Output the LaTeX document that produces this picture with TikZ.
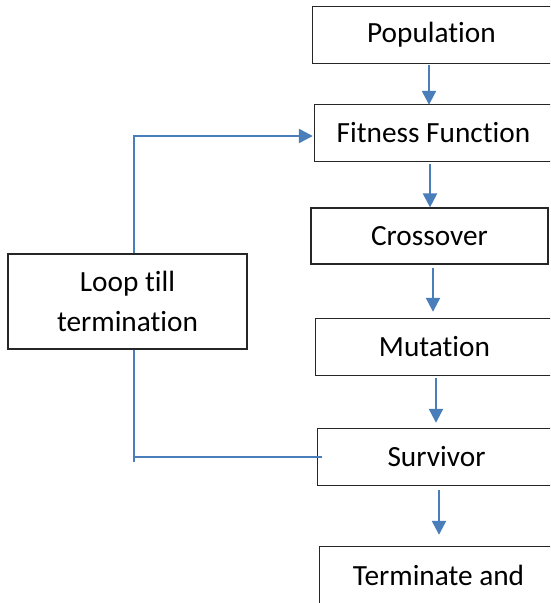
\documentclass[tikz,border=0pt]{standalone}
\usepackage{fontspec}
\setmainfont{Carlito}[Ligatures={NoCommon,NoRare,NoContextual}]
\usetikzlibrary{arrows.meta}
\definecolor{flowblue}{HTML}{4A7EBB}
\begin{document}
\begin{tikzpicture}[x=1pt,y=-1pt,
  box/.style={minimum width=237pt,minimum height=56pt,inner sep=0pt,
    font=\fontsize{29.3}{40}\selectfont},
  frame/.style={draw=black!85,line width=1.2pt},
  link/.style={draw=flowblue,line width=2.3pt},
  arr/.style={link,-{Triangle[width=14pt,length=14pt]}}]
\useasboundingbox (0,0) rectangle (550,603);
\clip (0,0) rectangle (550,603);
\fill[white] (0,0) rectangle (550,603);
\node[box] (pop) at (431.5,35) {Population};
\node[box] (fit) at (433.5,133) {Fitness Function};
\node[box,frame] (cross) at (429.5,236) {Crossover};
\node[box] (mut) at (434.5,347) {Mutation};
\node[box] (surv) at (436.5,457) {Survivor};
\node[box] (term) at (438.5,575) {Terminate and};
\node[box,frame,minimum width=239pt,minimum height=95pt,align=center] (loop) at (127.5,301.5) {Loop till\\termination};
\foreach \n in {pop,fit,mut,surv,term}
  \draw[frame] (\n.north west) rectangle ([xshift=30pt]\n.south east);
\coordinate (a1) at (429,0);
\coordinate (a2) at (430,0);
\coordinate (a3) at (433,0);
\coordinate (a4) at (436,0);
\coordinate (a5) at (439,0);
\coordinate (lx) at (134,0);
\draw[arr] ([yshift=-2pt]pop.south -| a1) -- (fit.north -| a1);
\draw[arr] ([yshift=-3pt]fit.south -| a2) -- (cross.north -| a2);
\draw[arr] ([yshift=-3pt]cross.south -| a3) -- ([yshift=7pt]mut.north -| a3);
\draw[arr] ([yshift=-3pt]mut.south -| a4) -- ([yshift=6pt]surv.north -| a4);
\draw[arr] ([yshift=-5pt]surv.south -| a5) -- ([yshift=12pt]term.north -| a5);
\draw[arr] (loop.north -| lx) |- ([xshift=-2pt,yshift=-3pt]fit.west);
\draw[link] (loop.south -| lx) -- ([yshift=-5pt]surv.west -| lx);
\draw[link] (surv.west -| lx) -- ([xshift=4pt]surv.west);
\end{tikzpicture}
\end{document}
